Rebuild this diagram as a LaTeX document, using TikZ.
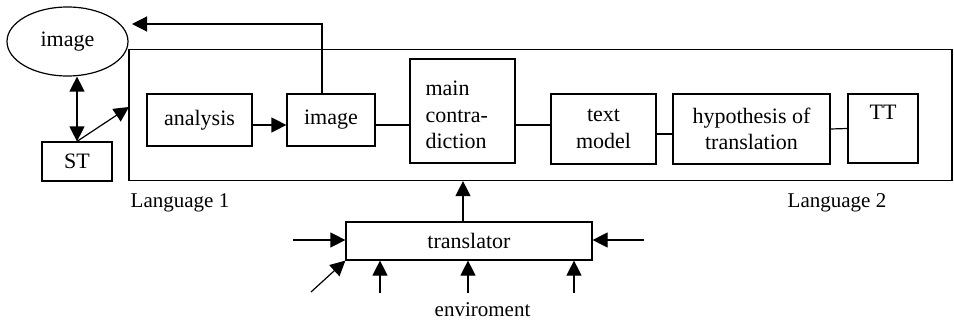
\documentclass[tikz,border=0pt]{standalone}
\usepackage{fontspec}
\setmainfont{Liberation Serif}
\usetikzlibrary{arrows.meta,shapes.geometric}
\begin{document}
\begin{tikzpicture}[x=1pt,y=-1pt,
  every node/.style={font=\fontsize{22}{26.4}\selectfont},
  box/.style={draw,line width=1.2pt,rectangle,inner sep=0pt},
  ln/.style={line width=1.2pt},
  arr/.style={line width=1.2pt,-{Triangle[length=15pt,width=15pt]}},
  darr/.style={line width=1.2pt,{Triangle[length=15pt,width=15pt]}-{Triangle[length=15pt,width=15pt]}},
  lbl/.style={anchor=base,inner sep=0pt,font=\fontsize{21}{25}\selectfont}]
\useasboundingbox (0,0) rectangle (954,321);
% nodes
\node[draw,line width=1.2pt,ellipse,minimum width=121pt,minimum height=69pt,inner sep=0pt] (ell) at (67.5,41.5) {image};
\node[box,minimum width=823pt,minimum height=131pt] (frame) at (540.5,115) {};
\node[box,minimum width=70pt,minimum height=39pt] (ST) at (77,161.5) {ST};
\node[box,minimum width=105pt,minimum height=52pt] (ana) at (199.5,120) {analysis};
\node[box,minimum width=88pt,minimum height=52pt] (img) at (331,120) {image};
\node[box,minimum width=105pt,minimum height=104pt] (main) at (462.5,111) {};
\node[anchor=west,align=left,inner sep=0pt] (maintext) at ([xshift=16pt,yshift=-4pt]main.west) {main\\contra-\\diction};
\node[box,minimum width=105pt,minimum height=70pt,align=center] (tm) at (603.5,129) {text\\model};
\node[box,minimum width=157pt,minimum height=70pt,align=center] (hyp) at (751.5,129) {hypothesis of\\translation};
\node[box,minimum width=70pt,inner ysep=10pt,text height=16pt,text depth=33pt] (TT) at (883,128.5) {TT};
\node[box,minimum width=246pt,minimum height=38pt] (tr) at (469,241) {translator};
\node[lbl] (l1) at (180,207.5) {Language 1};
\node[lbl] (l2) at (837,207.5) {Language 2};
\node[lbl] (env) at (482.5,316) {enviroment};
% coordinates
\coordinate (row) at (0,125);
\coordinate (topy) at (0,24);
\coordinate (tip) at (132,24);
\coordinate (fl) at (129,107);
\coordinate (inL) at (293,240);
\coordinate (inR) at (644,240);
\coordinate (inD) at (311,292);
\coordinate (b1) at (380,293);
\coordinate (b2) at (468,293);
\coordinate (b3) at (574,293);
\coordinate (upx) at (463,0);
% connectors
\draw[darr] (ell.south -| ST.north) -- (ST.north);
\draw[arr] (ST.north) -- (fl);
\draw[arr] (ana.east |- row) -- (img.west |- row);
\draw[arr] ([xshift=-9pt]img.north) -- ([xshift=-9pt]img.north |- topy) -- (tip);
\draw[ln] (img.east |- row) -- (main.west |- row);
\draw[ln] (main.east |- row) -- (tm.west |- row);
\draw[ln] ([yshift=-5pt]tm.east) -- ([yshift=-5pt]hyp.west);
\draw[ln] (hyp.east) -- (TT.west);
\draw[arr] (tr.north -| upx) -- (frame.south -| upx);
\draw[arr] (inL) -- (tr.west |- inL);
\draw[arr] (inR) -- (tr.east |- inR);
\draw[arr] (inD) -- (tr.south west);
\draw[arr] (b1) -- (tr.south -| b1);
\draw[arr] (b2) -- (tr.south -| b2);
\draw[arr] (b3) -- (tr.south -| b3);
\end{tikzpicture}
\end{document}
